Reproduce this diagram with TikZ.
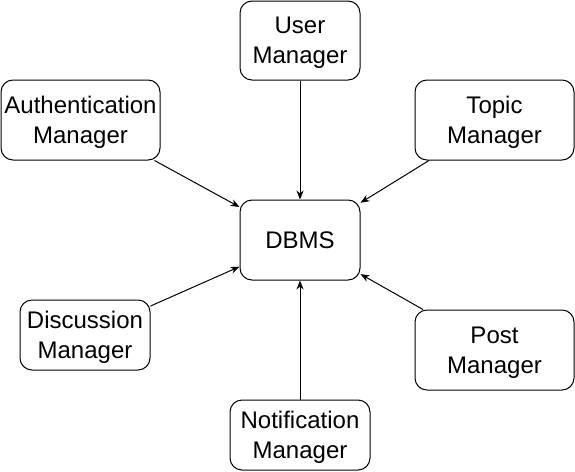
\documentclass[tikz,border=0pt]{standalone}
\usepackage{fontspec}
\setmainfont{Liberation Sans}
\usetikzlibrary{arrows.meta}
\tikzstyle{manager}=[draw=black,line width=1pt,rounded corners=12pt,align=center,inner sep=0pt,text depth=0pt,font=\fontsize{24}{30}\selectfont]
\tikzstyle{link}=[line width=1pt,-{Stealth[length=9pt,width=7pt]}]

\begin{document}
\begin{tikzpicture}[x=1pt, y=-1pt]
	%frame
	\useasboundingbox (0,0) rectangle (575,471);
	%boxes
	\node[manager, minimum width=120pt, minimum height=79pt] (user) at (300,40.5) {User\\Manager};
	\node[manager, minimum width=159pt, minimum height=80pt] (auth) at (80.5,120) {Authentication\\Manager};
	\node[manager, minimum width=159pt, minimum height=80pt] (topic) at (494.5,120) {Topic\\Manager};
	\node[manager, minimum width=120pt, minimum height=80pt] (dbms) at (300,240) {DBMS};
	\node[manager, minimum width=130pt, minimum height=70pt] (discussion) at (85,335) {Discussion\\Manager};
	\node[manager, minimum width=159pt, minimum height=80pt] (post) at (494.5,350) {Post\\Manager};
	\node[manager, minimum width=140pt, minimum height=70pt] (notification) at (300,435) {Notification\\Manager};
	%links
	\draw[link] (user) -- (dbms);
	\draw[link] (auth) -- (dbms);
	\draw[link] (topic) -- (dbms);
	\draw[link] (discussion) -- (dbms);
	\draw[link] (post) -- (dbms);
	\draw[link] (notification) -- (dbms);
\end{tikzpicture}
\end{document}
